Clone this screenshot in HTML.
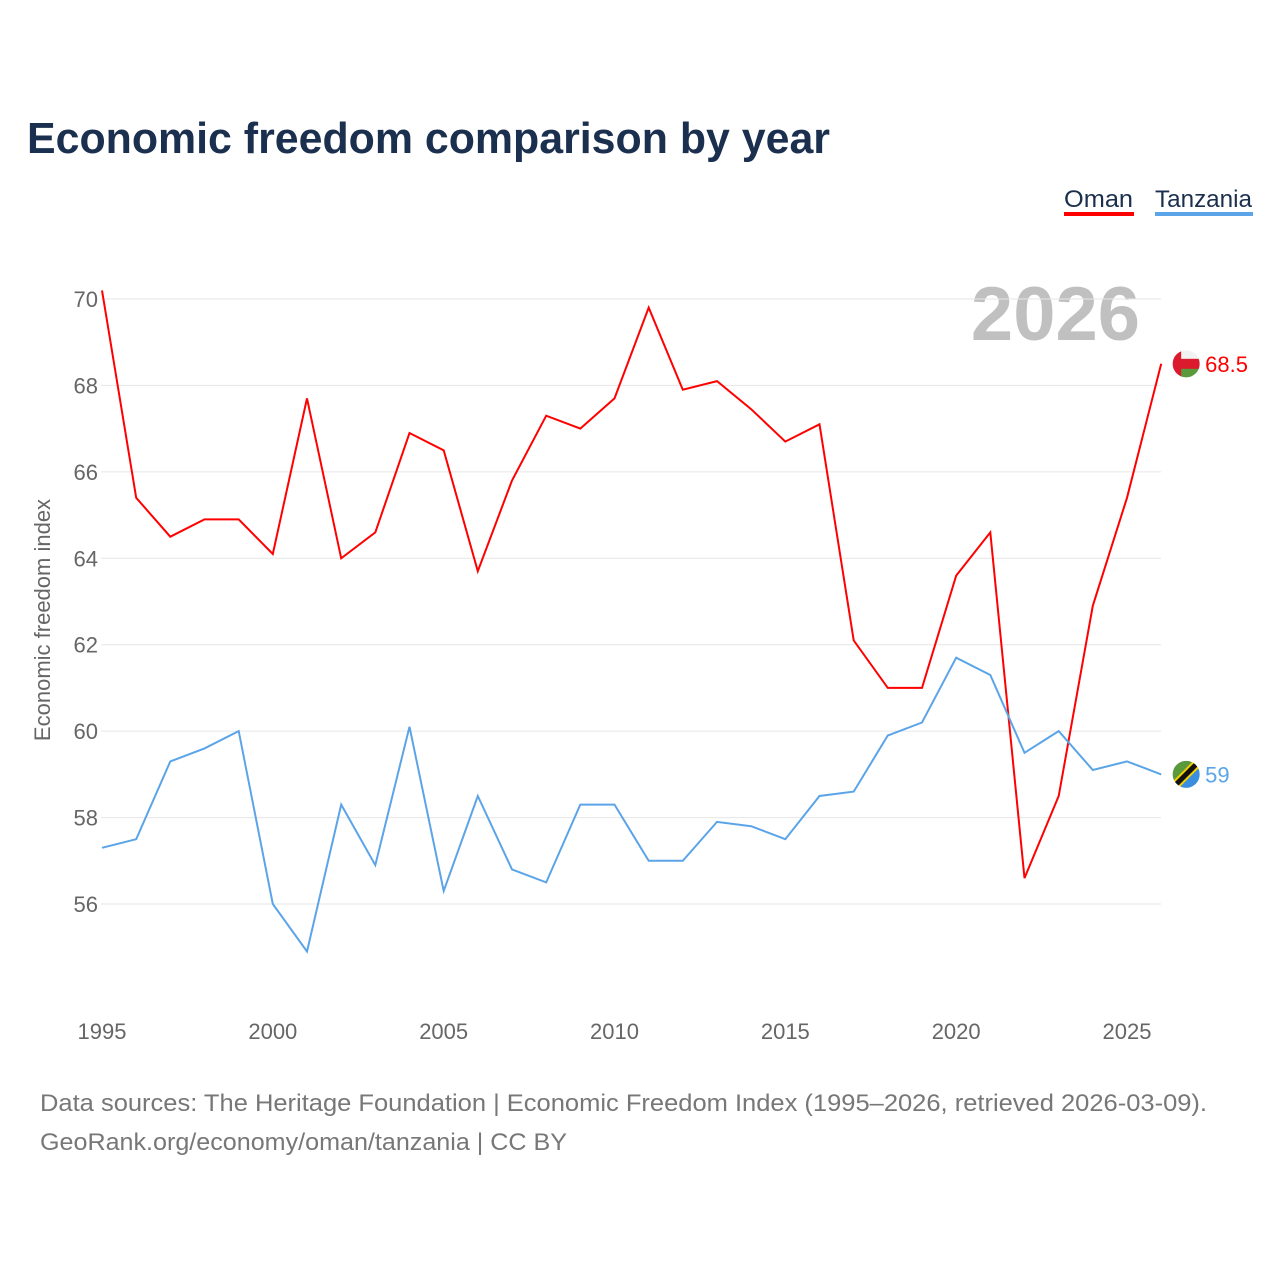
<!DOCTYPE html>
<html><head><meta charset="utf-8">
<style>
body{margin:0;background:#fff;font-family:"Liberation Sans",sans-serif;}
#wrap{position:relative;width:1280px;height:1280px;overflow:hidden;}
</style></head>
<body>
<div id="wrap">
<svg id="chart" width="1280" height="1280" xmlns="http://www.w3.org/2000/svg">
<defs id="defs"></defs>
<text x="27" y="153" font-size="44" font-weight="bold" fill="#1b2f4f" textLength="803" lengthAdjust="spacingAndGlyphs">Economic freedom comparison by year</text>
<g>
<text x="1064" y="207" font-size="24" fill="#1b2f4f" textLength="69" lengthAdjust="spacingAndGlyphs">Oman</text>
<rect x="1064" y="212" width="70" height="4" fill="#ff0000"/></g>
<g>
<text x="1155" y="207" font-size="24" fill="#1b2f4f" textLength="97" lengthAdjust="spacingAndGlyphs">Tanzania</text>
<rect x="1155" y="212" width="98" height="4" fill="#5ba4e8"/></g>
<text x="1140" y="340" font-size="76" font-weight="bold" fill="#c0c0c0" text-anchor="end">2026</text>
<text transform="translate(50,620) rotate(-90)" font-size="22" fill="#666" text-anchor="middle">Economic freedom index</text>
<g id="grid"></g><g id="yt"></g><g id="xt"></g><g id="lines"></g>
<text x="40" y="1111" font-size="24" fill="#777" textLength="1167" lengthAdjust="spacingAndGlyphs">Data sources: The Heritage Foundation | Economic Freedom Index (1995–2026, retrieved 2026-03-09).</text>
<text x="40" y="1150" font-size="24" fill="#777" textLength="527" lengthAdjust="spacingAndGlyphs">GeoRank.org/economy/oman/tanzania | CC BY</text>
</svg>
</div>
<script>
const years=[1995,1996,1997,1998,1999,2000,2001,2002,2003,2004,2005,2006,2007,2008,2009,2010,2011,2012,2013,2014,2015,2016,2017,2018,2019,2020,2021,2022,2023,2024,2025,2026];
const omanValues=[70.2,65.4,64.5,64.9,64.9,64.1,67.7,64.0,64.6,66.9,66.5,63.7,65.8,67.3,67.0,67.7,69.8,67.9,68.1,67.45,66.7,67.1,62.1,61.0,61.0,63.6,64.6,56.6,58.5,62.9,65.4,68.5];
const tanzaniaValues=[57.3,57.5,59.3,59.6,60.0,56.0,54.9,58.3,56.9,60.1,56.3,58.5,56.8,56.5,58.3,58.3,57.0,57.0,57.9,57.8,57.5,58.5,58.6,59.9,60.2,61.7,61.3,59.5,60.0,59.1,59.3,59.0];
const yTicks=[56,58,60,62,64,66,68,70];
const xTicks=[1995,2000,2005,2010,2015,2020,2025];
const NS="http://www.w3.org/2000/svg";
const x=v=>102+(v-1995)*(1127-102)/30;
const y=v=>904-(v-56)*(904-299)/14;
function mk(t,a,p){const e=document.createElementNS(NS,t);for(const k in a)e.setAttribute(k,a[k]);p.appendChild(e);return e;}
const grid=document.getElementById('grid'),yt=document.getElementById('yt'),xt=document.getElementById('xt'),lines=document.getElementById('lines'),defs=document.getElementById('defs');
yTicks.forEach(v=>{
 const l=mk('line',{x1:101,x2:1161,y1:y(v),y2:y(v),stroke:'#e6e6e6','stroke-width':1},grid);
 
 
 const t=mk('text',{x:98,y:y(v)+8,'font-size':22,fill:'#666','text-anchor':'end'},yt);t.textContent=v;
 
 
});
xTicks.forEach(v=>{
 const t=mk('text',{x:x(v),y:1039,'font-size':22,fill:'#666','text-anchor':'middle'},xt);t.textContent=v;
 
 
});
function series(vals,color,name,label,flagFn){
 const d=vals.map((v,i)=>(i?'L':'M')+x(years[i]).toFixed(1)+','+y(v).toFixed(1)).join('');
 const p=mk('path',{d:d,fill:'none',stroke:color,'stroke-width':2},lines);
 
 
 const lx=x(years[years.length-1])+25,ly=y(vals[vals.length-1]);
 const cp=mk('clipPath',{id:'clip-'+name},defs);
 mk('circle',{cx:lx,cy:ly,r:14},cp);
 const g=mk('g',{'clip-path':'url(#clip-'+name+')'},lines);
 
 
 flagFn(g,lx,ly);
 mk('circle',{cx:lx,cy:ly,r:14,fill:'none',stroke:'#fff','stroke-width':1},lines);
 const t=mk('text',{x:lx+19,y:ly+8,'font-size':22,fill:color},lines);t.textContent=label;
 
 
}
series(omanValues,'#ff0000','oman','68.5',(g,cx,cy)=>{
 mk('rect',{x:cx-14,y:cy-14,width:28,height:28,fill:'#db1a2d'},g);
 mk('rect',{x:cx-5,y:cy-14,width:20,height:9,fill:'#f2f2f2'},g);
 mk('rect',{x:cx-5,y:cy+5,width:20,height:9,fill:'#5a9a3c'},g);
});
series(tanzaniaValues,'#5ba4e8','tanzania','59',(g,cx,cy)=>{
 mk('rect',{x:cx-14,y:cy-14,width:28,height:28,fill:'#3a8ee0'},g);
 mk('path',{d:`M${cx-14},${cy+10}L${cx+10},${cy-14}L${cx-14},${cy-14}Z`,fill:'#5a9a3c'},g);
 mk('line',{x1:cx-14,y1:cy+14,x2:cx+14,y2:cy-14,stroke:'#f5d000','stroke-width':9},g);
 mk('line',{x1:cx-14,y1:cy+14,x2:cx+14,y2:cy-14,stroke:'#111','stroke-width':5},g);
});
</script>
</body></html>
